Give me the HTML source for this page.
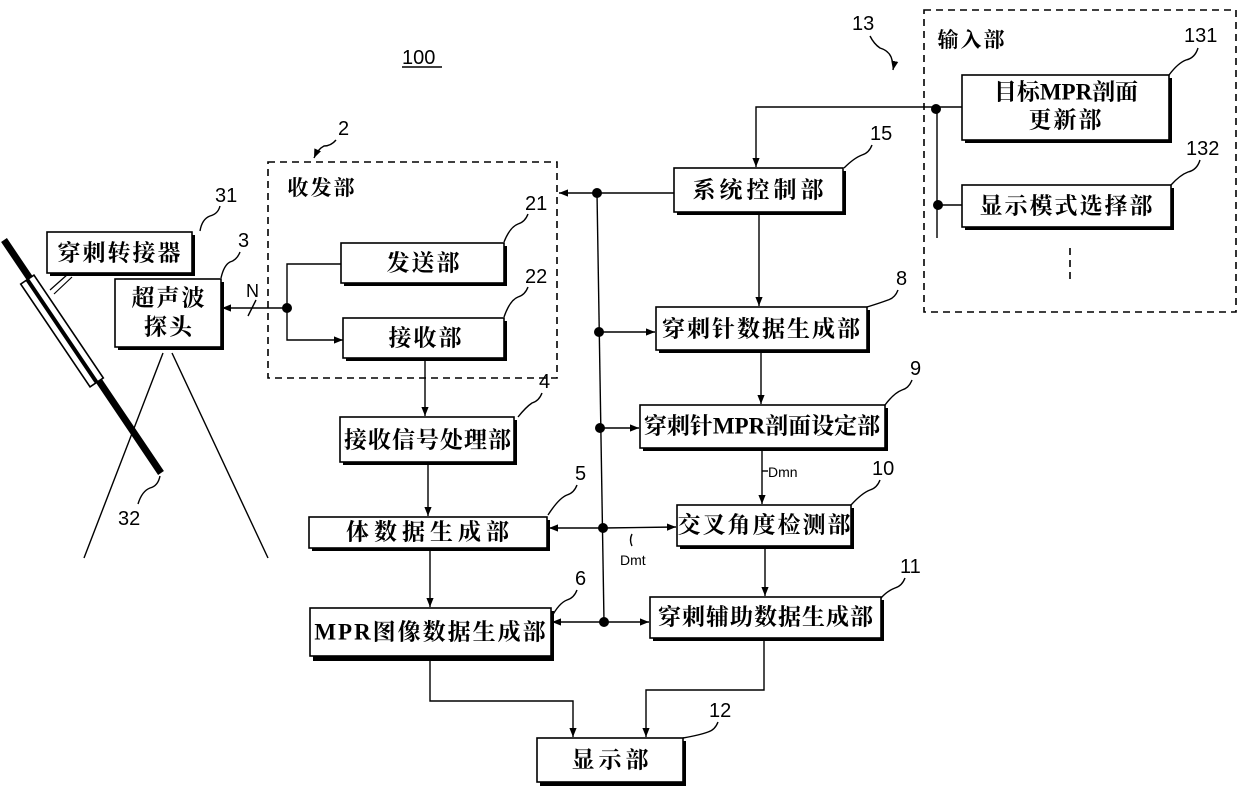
<!DOCTYPE html>
<html><head><meta charset="utf-8"><style>
html,body{margin:0;padding:0;background:#fff}
svg{display:block}
.b{fill:#fff;stroke:#000;stroke-width:1.6}
.s{fill:#000}
.t{font-family:"Liberation Serif","Noto Serif CJK SC","Noto Sans CJK SC",serif;font-size:23px;font-weight:bold;text-anchor:middle;dominant-baseline:central;letter-spacing:2px}
.n{font-family:"Liberation Sans",sans-serif;font-size:20px}
.l{fill:none;stroke:#000;stroke-width:1.4}
.d{fill:none;stroke:#000;stroke-width:1.6;stroke-dasharray:7 5}
</style></head><body>
<svg width="1240" height="787" viewBox="0 0 1240 787" xmlns="http://www.w3.org/2000/svg">
<defs>
<marker id="a" viewBox="0 0 10 10" refX="10" refY="5" markerWidth="9" markerHeight="9" orient="auto" markerUnits="userSpaceOnUse"><path d="M0,1 L10,5 L0,9 z"/></marker>
</defs>
<rect class="d" x="268" y="162" width="289" height="216"/>
<rect class="d" x="924" y="10" width="312" height="302"/>
<line class="d" x1="1070" y1="248" x2="1070" y2="282" stroke-dasharray="7 6"/>
<text class="t" x="322" y="188" style="font-size:21px">收发部</text>
<text class="t" x="972" y="40" style="font-size:21px">输入部</text>

<line x1="4" y1="240" x2="161" y2="473" stroke="#000" stroke-width="7"/>
<g transform="translate(62,331) rotate(56)"><rect x="-62" y="-8" width="124" height="16" fill="#fff" stroke="#000" stroke-width="1.6"/><line x1="-62" y1="0" x2="62" y2="0" stroke="#000" stroke-width="4"/></g>
<line x1="50" y1="290" x2="68" y2="274" stroke="#000" stroke-width="1.2"/>
<line x1="54" y1="294" x2="72" y2="277" stroke="#000" stroke-width="1.2"/>
<line class="l" x1="163" y1="353" x2="84" y2="558"/>
<line class="l" x1="172" y1="353" x2="268" y2="558"/>

<g>
<rect class="s" x="50" y="235" width="145" height="41"/><rect class="b" x="47" y="232" width="145" height="41"/>
<text class="t" x="120" y="253">穿刺转接器</text>
<rect class="s" x="118" y="282" width="106" height="68"/><rect class="b" x="115" y="279" width="106" height="68"/>
<text class="t" x="169" y="298">超声波</text><text class="t" x="169" y="327">探头</text>
<rect class="s" x="344" y="246" width="163" height="40"/><rect class="b" x="341" y="243" width="163" height="40"/>
<text class="t" x="424" y="263">发送部</text>
<rect class="s" x="346" y="321" width="161" height="40"/><rect class="b" x="343" y="318" width="161" height="40"/>
<text class="t" x="426" y="338">接收部</text>
<rect class="s" x="343" y="420" width="174" height="45"/><rect class="b" x="340" y="417" width="174" height="45"/>
<text class="t" x="428" y="440" style="letter-spacing:1px">接收信号处理部</text>
<rect class="s" x="312" y="520" width="238" height="31"/><rect class="b" x="309" y="517" width="238" height="31"/>
<text class="t" x="430" y="532" style="letter-spacing:5px">体数据生成部</text>
<rect class="s" x="313" y="611" width="241" height="50"/><rect class="b" x="310" y="608" width="241" height="48"/>
<text class="t" x="431" y="632">MPR图像数据生成部</text>
<rect class="s" x="540" y="741" width="146" height="45"/><rect class="b" x="537" y="738" width="146" height="44"/>
<text class="t" x="612" y="760" style="letter-spacing:4px">显示部</text>
<rect class="s" x="677" y="171" width="169" height="44"/><rect class="b" x="674" y="168" width="169" height="44"/>
<text class="t" x="760" y="190" style="letter-spacing:4px">系统控制部</text>
<rect class="s" x="659" y="310" width="211" height="43"/><rect class="b" x="656" y="307" width="211" height="43"/>
<text class="t" x="762" y="329">穿刺针数据生成部</text>
<rect class="s" x="643" y="408" width="245" height="43"/><rect class="b" x="640" y="405" width="245" height="43"/>
<text class="t" x="762" y="426" style="letter-spacing:0">穿刺针MPR剖面设定部</text>
<rect class="s" x="680" y="508" width="174" height="41"/><rect class="b" x="677" y="505" width="174" height="41"/>
<text class="t" x="765" y="525">交叉角度检测部</text>
<rect class="s" x="653" y="600" width="231" height="41"/><rect class="b" x="650" y="597" width="231" height="41"/>
<text class="t" x="766" y="617" style="letter-spacing:1px">穿刺辅助数据生成部</text>
<rect class="s" x="965" y="78" width="207" height="65"/><rect class="b" x="962" y="75" width="207" height="65"/>
<text class="t" x="1066" y="92" style="letter-spacing:0">目标MPR剖面</text><text class="t" x="1066" y="120">更新部</text>
<rect class="s" x="965" y="188" width="209" height="42"/><rect class="b" x="962" y="185" width="209" height="42"/>
<text class="t" x="1067" y="206">显示模式选择部</text>
</g>

<circle cx="287" cy="308" r="5"/>
<path class="l" d="M341,264 H287 V340 H343" marker-end="url(#a)"/>
<line class="l" x1="287" y1="308" x2="222" y2="308" marker-end="url(#a)"/>
<line class="l" x1="248" y1="316" x2="256" y2="300"/>
<text class="n" x="246" y="297" style="font-size:18px">N</text>
<line class="l" x1="425" y1="358" x2="425" y2="416" marker-end="url(#a)"/>
<line class="l" x1="428" y1="462" x2="428" y2="516" marker-end="url(#a)"/>
<line class="l" x1="430" y1="548" x2="430" y2="607" marker-end="url(#a)"/>
<path class="l" d="M430,656 V701 H573 V737" marker-end="url(#a)"/>
<path class="l" d="M764,638 V690 H646 V737" marker-end="url(#a)"/>
<line class="l" x1="597" y1="193" x2="604" y2="622"/>
<line class="l" x1="674" y1="193" x2="559" y2="193" marker-end="url(#a)"/>
<circle cx="597" cy="193" r="5"/>
<circle cx="599" cy="332" r="5"/><line class="l" x1="599" y1="332" x2="655" y2="332" marker-end="url(#a)"/>
<circle cx="600" cy="428" r="5"/><line class="l" x1="600" y1="428" x2="639" y2="428" marker-end="url(#a)"/>
<circle cx="603" cy="528" r="5"/><line class="l" x1="603" y1="528" x2="549" y2="528" marker-end="url(#a)"/><line class="l" x1="603" y1="528" x2="676" y2="527" marker-end="url(#a)"/>
<circle cx="604" cy="622" r="5"/><line class="l" x1="604" y1="622" x2="552" y2="622" marker-end="url(#a)"/><line class="l" x1="604" y1="622" x2="649" y2="622" marker-end="url(#a)"/>
<line class="l" x1="759" y1="212" x2="759" y2="306" marker-end="url(#a)"/>
<line class="l" x1="761" y1="350" x2="761" y2="404" marker-end="url(#a)"/>
<line class="l" x1="762" y1="448" x2="762" y2="504" marker-end="url(#a)"/>
<line class="l" x1="765" y1="546" x2="765" y2="596" marker-end="url(#a)"/>
<text class="n" x="768" y="477" style="font-size:14px">Dmn</text><line class="l" x1="762" y1="471" x2="768" y2="471"/>
<text class="n" x="620" y="565" style="font-size:14px">Dmt</text><path class="l" d="M632,534 q-3,6 0,12"/>
<path class="l" d="M962,107 H756 V167" marker-end="url(#a)"/>
<circle cx="936" cy="109" r="5"/>
<line class="l" x1="937" y1="109" x2="937" y2="238"/>
<circle cx="938" cy="205" r="5"/><line class="l" x1="938" y1="205" x2="962" y2="205"/>

<g class="n">
<text x="402" y="64">100</text>
<line x1="402" y1="67" x2="442" y2="67" stroke="#000" stroke-width="1.4"/>
<text x="338" y="135">2</text>
<text x="215" y="202">31</text>
<text x="238" y="247">3</text>
<text x="525" y="210">21</text>
<text x="525" y="283">22</text>
<text x="539" y="388">4</text>
<text x="118" y="525">32</text>
<text x="575" y="480">5</text>
<text x="575" y="585">6</text>
<text x="870" y="140">15</text>
<text x="896" y="285">8</text>
<text x="910" y="375">9</text>
<text x="872" y="475">10</text>
<text x="900" y="573">11</text>
<text x="709" y="717">12</text>
<text x="852" y="30">13</text>
<text x="1184" y="42">131</text>
<text x="1186" y="155">132</text>
</g>
<g class="l">
<path d="M336,140 q-5,6 -12,6 q-6,3 -10,12" marker-end="url(#a)"/>
<path d="M220,206 q-2,8 -10,10 q-8,3 -10,15"/>
<path d="M240,252 q-3,8 -10,10 q-6,3 -9,16"/>
<path d="M528,214 q-3,8 -10,10 q-8,3 -14,18"/>
<path d="M528,287 q-3,8 -10,10 q-8,3 -14,20"/>
<path d="M542,393 q-3,8 -10,10 q-6,4 -14,14"/>
<path d="M160,476 q-2,10 -10,12 q-8,3 -12,16"/>
<path d="M577,485 q-3,8 -10,10 q-8,3 -19,20"/>
<path d="M577,590 q-3,8 -10,10 q-8,3 -16,18"/>
<path d="M872,145 q-3,8 -10,10 q-8,3 -18,13"/>
<path d="M898,290 q-3,8 -10,10 q-8,3 -21,7"/>
<path d="M912,380 q-3,8 -10,10 q-8,3 -17,15"/>
<path d="M880,480 q-3,8 -10,10 q-8,3 -19,15"/>
<path d="M905,578 q-3,8 -10,10 q-8,3 -14,10"/>
<path d="M718,722 q-3,8 -10,10 q-8,3 -25,6"/>
<path d="M870,36 q4,8 10,12 q10,3 12,12 q2,5 1,10" marker-end="url(#a)"/>
<path d="M1198,48 q-3,10 -12,12 q-8,3 -17,15"/>
<path d="M1200,160 q-3,10 -12,12 q-8,3 -17,13"/>
</g>
</svg>
</body></html>
